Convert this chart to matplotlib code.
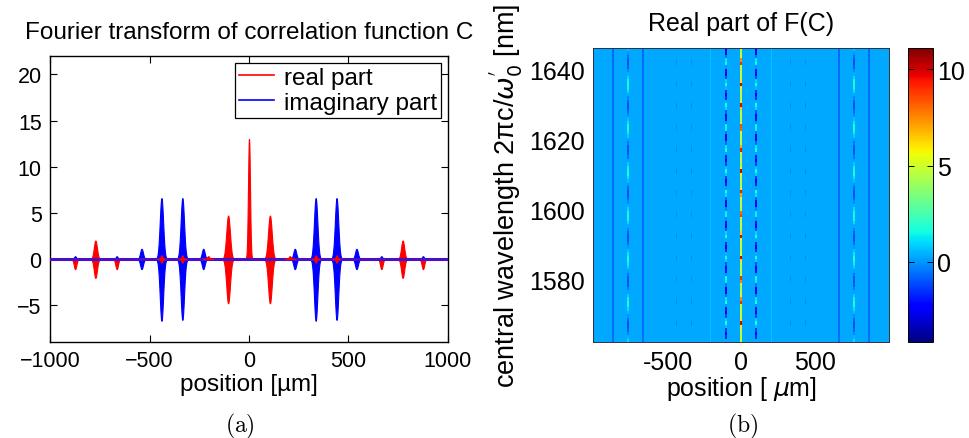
import numpy as np
import matplotlib
matplotlib.use("Agg")
import matplotlib.pyplot as plt

plt.rcParams['font.family'] = ['Liberation Sans', 'DejaVu Sans']

# ---------------- data: left panel (peak packets) ----------------
real_pos = [-874, -772, -665, -440, -335, -205, -105, 0, 105, 205, 335, 440, 665, 772, 874]
real_hi = [0.0, 2.0, 0.0, 0.4, 0.4, 0.3, 4.7, 13.0, 4.7, 0.3, 0.4, 0.4, 0.0, 2.0, 0.0]
real_lo = [-1.1, -2.05, -1.1, -0.4, -0.4, 0.0, -4.8, 0.0, -4.8, 0.0, -0.4, -0.4, -1.1, -2.05, -1.1]
real_w = [9, 11, 9, 6, 6, 8, 13, 7, 13, 8, 6, 6, 9, 11, 9]

imag_pos = [-874, -665, -540, -440, -335, -230, 230, 335, 440, 540, 665, 874]
imag_hi = [0.3, 0.3, 1.1, 6.6, 6.6, 1.1, 1.1, 6.6, 6.6, 1.1, 0.3, 0.3]
imag_lo = [0.0, 0.0, -1.1, -6.7, -6.6, -1.1, -1.1, -6.7, -6.6, -1.1, 0.0, 0.0]
imag_w = [7, 7, 10, 12, 12, 10, 10, 12, 12, 10, 7, 7]

# ---------------- data: right panel (features of the real-part map) ----------------
map_bg = 0.3
map_pos = [0, -105, 105, -205, 205, -335, 335, -440, 440, -665, 665, -772, 772, -874, 874, 0]
map_base = [2.6, -0.4, -0.4, 0.7, 0.7, 0.3, 0.3, 0.3, 0.3, -0.6, -0.6, 0.3, 0.3, -0.6, -0.6, 4.8]
map_swing = [0.0, 2.1, 2.1, 0.0, 0.0, -0.5, -0.5, -0.5, -0.5, 0.0, 0.0, 1.4, 1.4, 0.0, 0.0, 5.2]
map_period = [6.0, 6.2, 6.2, 6.0, 6.0, 6.2, 6.2, 6.2, 6.2, 6.0, 6.0, 12.5, 12.5, 6.0, 6.0, 6.2]
map_halfw = [10, 7, 7, 3.5, 3.5, 4, 4, 4, 4, 7, 7, 7, 7, 7, 7, 3.5]
wl_min, wl_max = 1562.0, 1646.0
x_min, x_max = -1007.0, 1007.0
cmin, cmax = -4.15, 11.1

# ---------------- figure ----------------
fig = plt.figure(figsize=(9.7, 4.39), dpi=100)
W, H = 970.0, 439.0

def rect(x0, y0, x1, y1):
    return [x0 / W, 1 - y1 / H, (x1 - x0) / W, (y1 - y0) / H]

ax1 = fig.add_axes(rect(50, 57, 448, 343))
xs = np.linspace(-1000, 1000, 16001)

def spindle(ax, c, hi, lo, w, color, z):
    m = np.abs(xs - c) < 3.2 * w
    xx = xs[m]
    env = np.exp(-((xx - c) / w) ** 2)
    ax.fill_between(xx, lo * env, hi * env, color=color, lw=0.8, edgecolor=color, zorder=z)

for c, hi, lo, w in zip(imag_pos, imag_hi, imag_lo, imag_w):
    spindle(ax1, c, hi, lo, w, '#0000ff', 2)
for c, hi, lo, w in zip(real_pos, real_hi, real_lo, real_w):
    z = 5 if (abs(hi) < 0.5 and abs(lo) < 0.5) else 3
    spindle(ax1, c, hi, lo, w, '#ff0000', z)

ax1.plot([-1000, 1000], [0, 0], color='#4a10c8', lw=2.2, zorder=4)
l1, = ax1.plot([], [], color='#ff0000', lw=1.2, label='real part')
l2, = ax1.plot([], [], color='#0000ff', lw=1.2, label='imaginary part')

ax1.set_xlim(-1000, 1000)
ax1.set_ylim(-9, 22)
ax1.set_xticks([-1000, -500, 0, 500, 1000])
ax1.set_yticks([-5, 0, 5, 10, 15, 20])
ax1.tick_params(direction='in', top=True, right=True, length=5, width=0.8,
                labelsize=15.5, pad=6)
for s in ax1.spines.values():
    s.set_linewidth(1.0)
ax1.set_title('Fourier transform of correlation function C', fontsize=17.5, pad=13)
ax1.set_xlabel('position [µm]', fontsize=17.5, labelpad=1)
leg = ax1.legend(handles=[l1, l2], loc='upper right', fontsize=17.5, frameon=True,
                 fancybox=False, edgecolor='black', framealpha=1, handlelength=1.45,
                 handletextpad=0.4, labelspacing=0.12, borderpad=0.15,
                 borderaxespad=0.3)
leg.get_frame().set_linewidth(0.9)

# ---------------- right panel ----------------
ax2 = fig.add_axes(rect(593, 49, 889, 343))
ncol, nrow = 296, 85
xe = np.linspace(x_min, x_max, ncol + 1)
xc = 0.5 * (xe[:-1] + xe[1:])
ye = np.linspace(wl_min, wl_max, nrow + 1)
yc = 0.5 * (ye[:-1] + ye[1:])
Z = np.full((nrow, ncol), map_bg)
for i, (p, b, sw, per, hw) in enumerate(zip(map_pos, map_base, map_swing, map_period, map_halfw)):
    cols = np.where(np.abs(xc - p) <= hw)[0]
    if cols.size == 0:
        cols = np.array([np.argmin(np.abs(xc - p))])
    ph = np.cos(2 * np.pi * (yc - wl_min) / per + 0.7)
    if i == len(map_pos) - 1:
        prof = b + sw * np.clip(ph, 0, 1) ** 3
    elif sw < 0:
        prof = b + sw * np.clip(ph, 0, 1) ** 2
    else:
        prof = b + sw * ph
    for cidx in cols:
        Z[:, cidx] = prof

ax2.imshow(Z, cmap='jet', vmin=cmin, vmax=cmax, origin='lower', aspect='auto',
           interpolation='nearest', extent=[x_min, x_max, wl_min, wl_max])
ax2.set_xlim(x_min, x_max)
ax2.set_ylim(wl_min, wl_max)
ax2.set_xticks([-500, 0, 500])
ax2.set_xticklabels(['-500', '0', '500'])
ax2.set_yticks([1580, 1600, 1620, 1640])
ax2.tick_params(length=0, labelsize=18, pad=6)
for s in ax2.spines.values():
    s.set_linewidth(0.7)
    s.set_color('#303040')
ax2.set_title('Real part of F(C)', fontsize=18, pad=13)
ax2.set_xlabel('position [ $\\mu$m]', fontsize=18, labelpad=0)
ax2.set_ylabel("central wavelength 2πc/$\\omega_0^{'}$ [nm]", fontsize=19.5, labelpad=3)

cax = fig.add_axes(rect(908, 49, 933, 343))
norm = matplotlib.colors.Normalize(vmin=cmin, vmax=cmax)
cb = fig.colorbar(matplotlib.cm.ScalarMappable(norm=norm, cmap='jet'), cax=cax)
cb.set_ticks([0, 5, 10])
cb.ax.tick_params(direction='in', length=4, width=0.7, labelsize=18, pad=3, left=True)
cb.outline.set_linewidth(0.7)

fig.text(240 / W, 1 - 426 / H, r'$\mathrm{(a)}$', math_fontfamily='cm', fontsize=17,
         ha='center', va='center')
fig.text(743 / W, 1 - 426 / H, r'$\mathrm{(b)}$', math_fontfamily='cm', fontsize=17,
         ha='center', va='center')

fig.savefig('out.png', dpi=100)
